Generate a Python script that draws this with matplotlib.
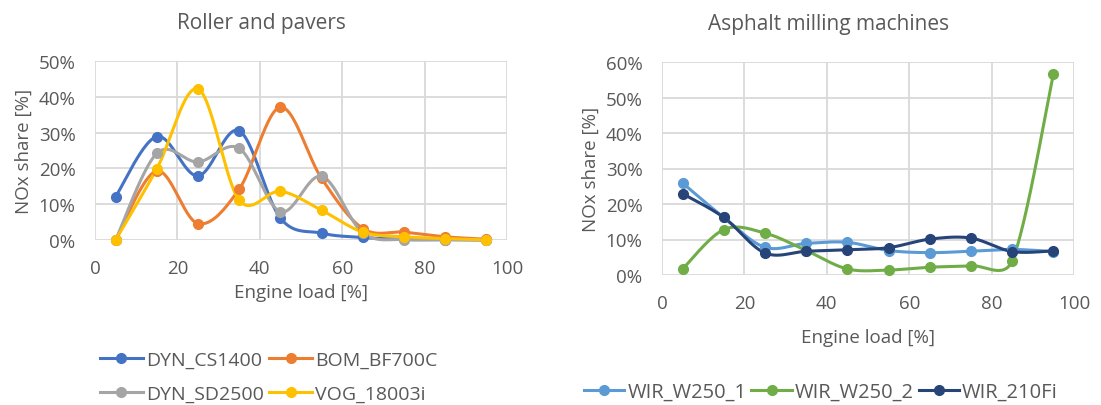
import numpy as np
import matplotlib
matplotlib.use("Agg")
import matplotlib.pyplot as plt
from matplotlib.lines import Line2D

plt.rcParams['font.family'] = ['Open Sans', 'DejaVu Sans']

# Engine load bins (%)
load = [5, 15, 25, 35, 45, 55, 65, 75, 85, 95]

# Roller and pavers: NOx share per load bin (%)
dyn_cs1400 = [12.1, 28.9, 17.9, 30.5, 6.1, 1.9, 0.7, 0.2, 0.1, 0.0]
bom_bf700c = [0.0, 19.3, 4.6, 14.2, 37.1, 17.2, 3.2, 2.2, 0.9, 0.2]
dyn_sd2500 = [0.0, 24.2, 21.8, 25.6, 7.9, 17.8, 2.0, 0.1, 0.1, 0.0]
vog_18003i = [0.0, 19.9, 42.2, 11.1, 13.6, 8.3, 2.2, 0.9, 0.4, 0.0]

# Asphalt milling machines: NOx share per load bin (%)
wir_w250_1 = [25.9, 16.2, 7.8, 8.9, 9.2, 6.9, 6.3, 6.7, 7.2, 6.6]
wir_w250_2 = [1.7, 12.8, 11.8, 6.9, 1.7, 1.4, 2.2, 2.6, 4.0, 56.5]
wir_210fi = [22.9, 16.2, 6.2, 6.7, 7.1, 7.7, 10.1, 10.4, 6.6, 6.8]

left_names = ["DYN_CS1400", "BOM_BF700C", "DYN_SD2500", "VOG_18003i"]
left_series = [dyn_cs1400, bom_bf700c, dyn_sd2500, vog_18003i]
left_colors = ["#4472C4", "#ED7D31", "#A5A5A5", "#FFC000"]

right_names = ["WIR_W250_1", "WIR_W250_2", "WIR_210Fi"]
right_series = [wir_w250_1, wir_w250_2, wir_210fi]
right_colors = ["#5B9BD5", "#70AD47", "#264478"]

TEXT = "#595959"
GRID = "#D9D9D9"
W, H = 1101, 406


def smooth(x, y, kx, ky, n=50):
    """Cubic Bezier spline through the points, built in screen-like units
    (kx, ky pixels per data unit); control arms are limited to half the
    neighbouring segment so steep jumps do not overshoot much."""
    pts = np.column_stack([np.asarray(x, float) * kx, np.asarray(y, float) * ky])
    m = len(pts)
    tang = []
    for i in range(m):
        a = pts[max(i - 1, 0)]
        b = pts[min(i + 1, m - 1)]
        tang.append((b - a) / 6.0)
    out = []
    t = np.linspace(0, 1, n)[:, None]
    for i in range(m - 1):
        p1, p2 = pts[i], pts[i + 1]
        seg_len = np.hypot(*(p2 - p1))
        a1, a2 = tang[i].copy(), tang[i + 1].copy()
        for arm in (a1, a2):
            L = np.hypot(*arm)
            if L > 0.5 * seg_len and L > 0:
                arm *= 0.5 * seg_len / L
        c1 = p1 + a1
        c2 = p2 - a2
        seg = ((1 - t) ** 3) * p1 + 3 * ((1 - t) ** 2) * t * c1 \
            + 3 * (1 - t) * t ** 2 * c2 + t ** 3 * p2
        out.append(seg if i == 0 else seg[1:])
    s = np.vstack(out)
    return s[:, 0] / kx, s[:, 1] / ky


def style_axes(ax, ymax, title, xlabelpad):
    ax.set_xlim(0, 100)
    ax.set_ylim(0, ymax)
    ax.set_xticks(range(0, 101, 20))
    ax.set_yticks(range(0, ymax + 1, 10))
    ax.set_yticklabels([f"{v}%" for v in range(0, ymax + 1, 10)])
    ax.grid(True, color=GRID, linewidth=1.3, zorder=0)
    ax.set_axisbelow(True)
    for sp in ax.spines.values():
        sp.set_visible(False)
    ax.tick_params(axis="x", length=0, colors=TEXT, labelsize=13.5, pad=14)
    ax.tick_params(axis="y", length=0, colors=TEXT, labelsize=13.5, pad=14)
    ax.set_xlabel("Engine load [%]", color=TEXT, fontsize=13.5, labelpad=xlabelpad)
    ax.set_ylabel("NOx share [%]", color=TEXT, fontsize=13.5, labelpad=4)
    ax.set_title(title, color=TEXT, fontsize=15, pad=24, x=0.405)


def draw(ax, series, colors, kx, ky):
    for vals, c in zip(series, colors):
        sx, sy = smooth(load, vals, kx, ky)
        ax.plot(sx, sy, color=c, linewidth=2.2, zorder=3, clip_on=False,
                solid_capstyle="round")
        ax.plot(load, vals, "o", color=c, markersize=7, zorder=4, clip_on=False)


fig = plt.figure(figsize=(W / 100, H / 100), dpi=100)

ax1 = fig.add_axes([95 / W, 1 - 241 / H, 412 / W, 179 / H])
draw(ax1, left_series, left_colors, 412 / 100, 179 / 50)
style_axes(ax1, 50, "Roller and pavers", 4)

ax2 = fig.add_axes([662 / W, 1 - 276 / H, 412 / W, 213 / H])
draw(ax2, right_series, right_colors, 412 / 100, 213 / 60)
style_axes(ax2, 60, "Asphalt milling machines", 11)


def handles(colors):
    return [Line2D([0], [0], color=c, linewidth=2.2, marker="o", markersize=7)
            for c in colors]


# two-column legend filled row by row
order = [0, 2, 1, 3]
leg1 = fig.legend([handles(left_colors)[i] for i in order],
                  [left_names[i] for i in order], ncol=2, loc="center left",
                  bbox_to_anchor=(100 / W, 1 - 378 / H), frameon=False,
                  fontsize=14, handlelength=2.2, handletextpad=0.15,
                  columnspacing=0.3, labelspacing=0.8, labelcolor=TEXT,
                  borderaxespad=0, borderpad=0)
leg2 = fig.legend(handles(right_colors), right_names, ncol=3, loc="center left",
                  bbox_to_anchor=(584 / W, 1 - 393 / H), frameon=False,
                  fontsize=14.5, handlelength=2.0, handletextpad=0.15,
                  columnspacing=0.25, labelcolor=TEXT,
                  borderaxespad=0, borderpad=0)

fig.savefig("out.png", dpi=100, facecolor="white")
